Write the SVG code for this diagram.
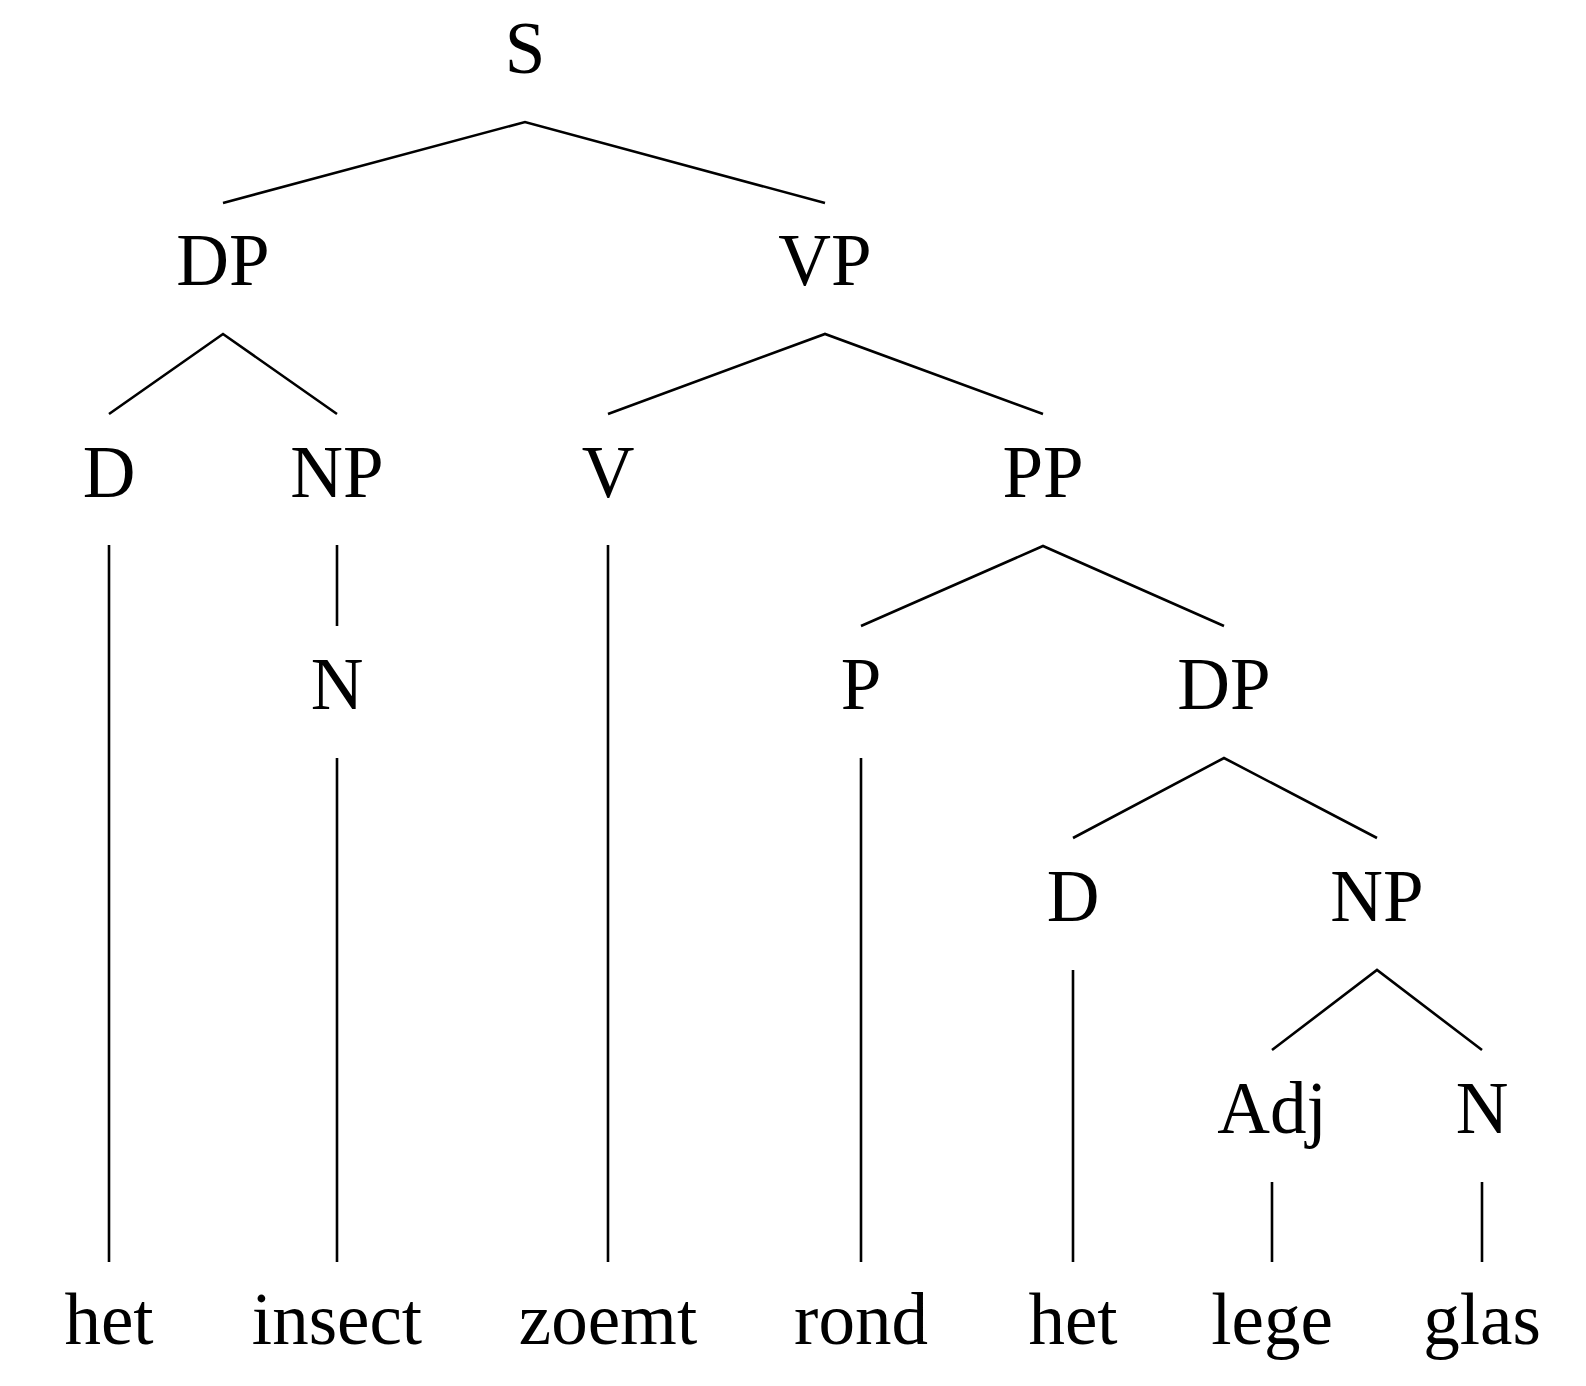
<svg xmlns="http://www.w3.org/2000/svg" width="1586" height="1386" viewBox="0 0 1586 1386">
  <style>
    .lbl { font-family: "Liberation Serif", "Times New Roman", serif; font-size: 73px; fill: #000; text-anchor: middle; }
    .edge { stroke: #000; stroke-width: 2.6; fill: none; stroke-linecap: butt; stroke-linejoin: miter; }
  </style>
  <rect width="1586" height="1386" fill="#fff"/>

  <!-- branches of the syntax tree -->
  <g id="connectors">
    <polyline class="edge" points="223,203 525,122 825,203"/>
    <polyline class="edge" points="109,414 223,334 337,414"/>
    <polyline class="edge" points="608,414 825,334 1043,414"/>
    <line class="edge" x1="109" y1="545" x2="109" y2="1262"/>
    <line class="edge" x1="337" y1="545" x2="337" y2="626"/>
    <line class="edge" x1="337" y1="758" x2="337" y2="1262"/>
    <line class="edge" x1="608" y1="545" x2="608" y2="1262"/>
    <polyline class="edge" points="861,626 1043,546 1224,626"/>
    <line class="edge" x1="861" y1="758" x2="861" y2="1262"/>
    <polyline class="edge" points="1073,838 1224,758 1377,838"/>
    <line class="edge" x1="1073" y1="970" x2="1073" y2="1262"/>
    <polyline class="edge" points="1272,1050 1377,970 1482,1050"/>
    <line class="edge" x1="1272" y1="1182" x2="1272" y2="1262"/>
    <line class="edge" x1="1482" y1="1182" x2="1482" y2="1262"/>
  </g>

  <!-- category labels -->
  <g id="node-S"><text class="lbl" x="525" y="73">S</text></g>
  <g id="node-DP1"><text class="lbl" x="223" y="285">DP</text></g>
  <g id="node-VP"><text class="lbl" x="825" y="285">VP</text></g>
  <g id="node-D1"><text class="lbl" x="109" y="497">D</text></g>
  <g id="node-NP1"><text class="lbl" x="337" y="497">NP</text></g>
  <g id="node-V"><text class="lbl" x="608" y="497">V</text></g>
  <g id="node-PP"><text class="lbl" x="1043" y="497">PP</text></g>
  <g id="node-N1"><text class="lbl" x="337" y="709">N</text></g>
  <g id="node-P"><text class="lbl" x="861" y="709">P</text></g>
  <g id="node-DP2"><text class="lbl" x="1224" y="709">DP</text></g>
  <g id="node-D2"><text class="lbl" x="1073" y="921">D</text></g>
  <g id="node-NP2"><text class="lbl" x="1377" y="921">NP</text></g>
  <g id="node-Adj"><text class="lbl" x="1272" y="1133">Adj</text></g>
  <g id="node-N2"><text class="lbl" x="1482" y="1133">N</text></g>

  <!-- terminal words -->
  <g id="word-het1"><text class="lbl" x="109" y="1344">het</text></g>
  <g id="word-insect"><text class="lbl" x="337" y="1344">insect</text></g>
  <g id="word-zoemt"><text class="lbl" x="608" y="1344">zoemt</text></g>
  <g id="word-rond"><text class="lbl" x="861" y="1344">rond</text></g>
  <g id="word-het2"><text class="lbl" x="1073" y="1344">het</text></g>
  <g id="word-lege"><text class="lbl" x="1272" y="1344">lege</text></g>
  <g id="word-glas"><text class="lbl" x="1482" y="1344">glas</text></g>
</svg>
